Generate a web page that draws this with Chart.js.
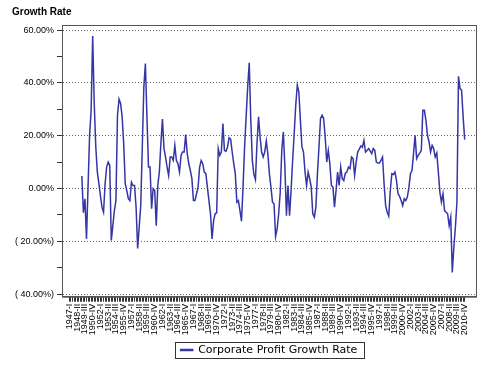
<!DOCTYPE html>
<html>
<head>
<meta charset="utf-8">
<script src="https://cdn.jsdelivr.net/npm/chart.js@4.4.1/dist/chart.umd.min.js"></script>
<style>
  html, body { margin: 0; padding: 0; background: #fff; }
</style>
</head>
<body>
<canvas id="graficoLucro" width="490" height="368"></canvas>
<script>
// quarters 1947-I .. 2010-IV (category labels)
var romanos = ['I', 'II', 'III', 'IV'];
var trimestres = [];
for (var ano = 1947; ano <= 2010; ano++) {
    romanos.forEach(function (r) { trimestres.push(ano + '-' + r); });
}

// year-over-year growth, %, series starts 1949-I
var crescimento = [
    null, null, null, null, null, null, null, null,
    4.7, -9.2, -3.9, -19.1, 0.5, 20, 29.6, 57.7,
    32.2, 15.7, 6.2, 1.8, -2.7, -7.1, -9.0, 1.8,
    8.1, 10.0, 8.7, -19.7, -14.1, -8.4, -4.6, 27.7,
    33.8, 32.2, 27.1, 17, 1.8, -0.8, -3.9, -4.6,
    2.4, 1.1, 1.1, -7.1, -22.7, -14.7, -6.5, 15.7,
    38.5, 47.3, 27.1, 8.1, 8.1, -7.7, -0.1, -0.8,
    -14.1, 1.1, 6.2, 17, 26.3, 15.1, 11.9, 8.1,
    4.9, 11.9, 11.9, 10.6, 16.3, 10.6, 9.4, 6.2,
    12.5, 13.8, 13.8, 20.4, 13.2, 9.4, 6.8, 3.7,
    -4.6, -4.6, -2.0, 0.5, 8.1, 10.6, 9.4, 6.2,
    5.6, 0.5, -4.6, -9.6, -19.1, -12.2, -9.6, -9.2,
    15.1, 12.5, 13.8, 24.6, 14.4, 14.1, 15.7, 19.2,
    18.7, 13.8, 9.4, 5.6, -5.2, -4.6, -8.4, -12.4,
    0.5, 15.7, 27.1, 38.5, 47.6, 25.8, 10.6, 5.3,
    3.3, 17, 27.1, 19.5, 13.8, 11.9, 13.8, 18,
    13.2, 5.6, 0.5, -5.2, -5.8, -18.2, -15.3, -9.6,
    -1.4, 14.4, 21.4, 8.1, -10.3, 1.1, -10.3, -0.8,
    10.6, 20.8, 31.5, 39.1, 36.6, 25.8, 15.7, 13.8,
    6.2, 1.1, 6.2, 3.7, 0.5, -9.6, -10.9, -7.1,
    5.6, 15.7, 26.5, 27.7, 26.5, 19.5, 10, 14.4,
    9.4, 1.1, 0.5, -7.1, -0.8, 6.2, 1.1, 8.1,
    3.7, 3, 5.8, 6.2, 8.1, 7.5, 11.9, 11.3,
    4.9, 10, 13.8, 14.9, 16.1, 15.6, 18.2, 13.8,
    14.4, 15.1, 14.2, 13.2, 15.1, 14.4, 10, 9.6,
    9.6, 10.6, 11.9, 1.8, -6.5, -9.0, -10.5, -0.8,
    5.6, 5.3, 6.2, 3, -2, -3, -4.6, -6.5,
    -3.9, -4.6, -3.3, 0.3, 5.6, 6.8, 13.2, 20.1,
    11.3, 12.5, 13.4, 14.4, 29.6, 29.6, 25.8, 20.1,
    17.6, 13.8, 16.3, 15.1, 11.9, 13.4, 6.2, -1.4,
    -5.2, -2, -8.4, -9, -9.6, -14.1, -10.9, -31.8,
    -22.3, -14.7, -5.2, 42.5, 37.8, 37.2, 27.1, 18.5
];

var ticksY = [-40, -30, -20, -10, 0, 10, 20, 30, 40, 50, 60];

Chart.defaults.font.family = "'Liberation Sans', Arial, sans-serif";
Chart.defaults.color = '#000';

function formatoPct(v) {
    if (v < 0) return '( ' + Math.abs(v).toFixed(2) + '%)';
    return v.toFixed(2) + '%';
}

// box around the plot and around the legend
var moldura = {
    id: 'moldura',
    afterLayout: function (chart) {
        var a = chart.chartArea, lg = chart.legend;
        lg.left = a.left; lg.right = a.right; lg.width = a.right - a.left;
    },
    afterDraw: function (chart) {
        var ctx = chart.ctx, a = chart.chartArea;
        ctx.save();
        ctx.setLineDash([]);
        ctx.strokeStyle = '#555';
        ctx.lineWidth = 1;
        ctx.strokeRect(a.left + 0.5, a.top + 0.5, a.right - a.left, a.bottom - a.top);
        var hb = chart.legend.legendHitBoxes[0];
        ctx.strokeStyle = '#333';
        ctx.strokeRect(Math.round(hb.left - 6) + 0.5, Math.round(hb.top - 3) + 0.5,
            Math.round(hb.width + 12), Math.round(hb.height + 5));
        ctx.restore();
    }
};

new Chart(document.getElementById('graficoLucro').getContext('2d'), {
    type: 'line',
    data: {
        datasets: [{
            label: 'Corporate Profit Growth Rate',
            data: crescimento.map(function (v, i) { return { x: i, y: v }; }),
            borderColor: '#3535a5',
            backgroundColor: '#3535a5',
            borderWidth: 1.5,
            pointRadius: 0,
            tension: 0,
            fill: false
        }]
    },
    options: {
        responsive: false,
        animation: false,
        layout: { padding: { left: 12, right: 14, top: 0, bottom: 2.5 } },
        plugins: {
            title: {
                display: true,
                text: 'Growth Rate',
                align: 'start',
                font: { size: 10, weight: 'bold' },
                padding: { top: 6, bottom: 7 }
            },
            legend: {
                position: 'bottom',
                labels: { boxWidth: 12, boxHeight: 1, padding: 5, font: { size: 11, family: "'DejaVu Sans', sans-serif" } }
            },
            tooltip: { enabled: false }
        },
        scales: {
            x: {
                type: 'linear',
                bounds: 'data',
                min: -4.8,
                max: 262.3,
                afterBuildTicks: function (s) {
                    s.ticks = trimestres.map(function (t, i) { return { value: i }; });
                },
                afterFit: function (s) { s.height = 42.8; },
                grid: { drawOnChartArea: false, drawTicks: true, tickLength: 5, tickColor: '#333' },
                border: { display: true, color: '#555' },
                ticks: {
                    autoSkip: false,
                    maxRotation: 90,
                    minRotation: 90,
                    padding: 2,
                    font: { size: 9 },
                    callback: function (v) { return v % 5 === 0 ? trimestres[v] : ''; }
                }
            },
            y: {
                min: -41,
                max: 61.9,
                afterBuildTicks: function (s) {
                    s.ticks = ticksY.map(function (v) { return { value: v }; });
                },
                afterFit: function (s) { s.width = 50; },
                grid: {
                    color: function (c) { return c.tick && c.tick.value % 20 === 0 ? '#666' : 'rgba(0,0,0,0)'; },
                    tickColor: '#333',
                    tickLength: 5
                },
                border: { color: '#555', dash: [1, 2] },
                ticks: {
                    padding: 3,
                    font: { size: 9 },
                    callback: function (v) { return v % 20 === 0 ? formatoPct(v) : ''; }
                }
            }
        }
    },
    plugins: [moldura]
});
</script>
</body>
</html>
